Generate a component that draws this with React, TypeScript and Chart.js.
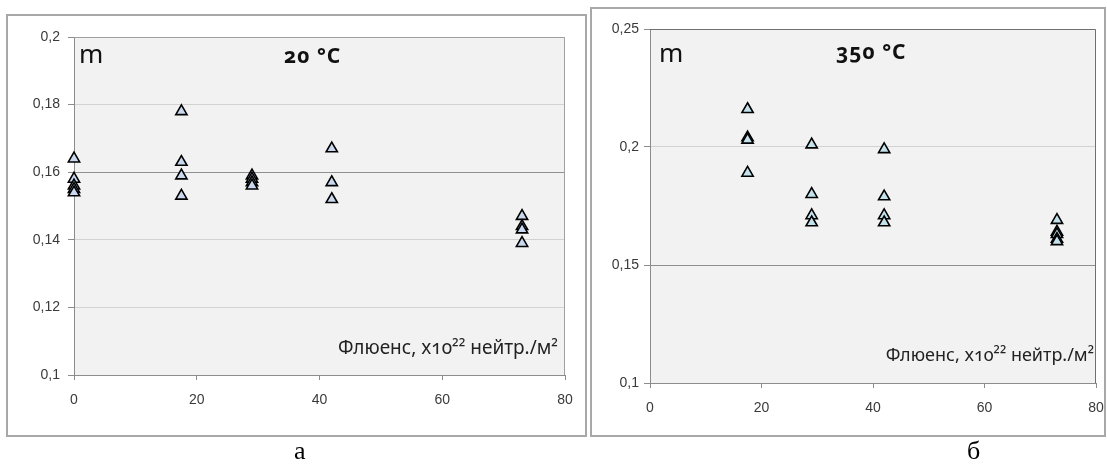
import React, { useEffect, useRef } from 'react';
import { Chart, registerables } from 'chart.js';

Chart.register(...registerables);

// ---- data ----
const xTicks = [0, 20, 40, 60, 80];
const yTicksA = [0.1, 0.12, 0.14, 0.16, 0.18, 0.2];
const yTicksB = [0.1, 0.15, 0.2, 0.25];

// 20 °C
const fluenceA = [0, 0, 0, 0, 0, 17.5, 17.5, 17.5, 17.5, 29, 29, 29, 29, 42, 42, 42, 73, 73, 73, 73];
const mA = [0.164, 0.158, 0.156, 0.155, 0.154, 0.178, 0.163, 0.159, 0.153, 0.159, 0.158, 0.157, 0.156, 0.167, 0.157, 0.152, 0.147, 0.144, 0.143, 0.139];

// 350 °C
const fluenceB = [17.5, 17.5, 17.5, 17.5, 29, 29, 29, 29, 42, 42, 42, 42, 73, 73, 73, 73, 73];
const mB = [0.216, 0.204, 0.203, 0.189, 0.201, 0.18, 0.171, 0.168, 0.199, 0.179, 0.171, 0.168, 0.169, 0.164, 0.163, 0.161, 0.16];

const fmt = (v: number) => String(Number(v.toFixed(3))).replace('.', ',');

type PanelProps = {
  xs: number[];
  ys: number[];
  yTicks: number[];
  left: number;
  top: number;
  width: number;
  height: number;
  area: { left: number; top: number; right: number; bottom: number };
  pointFill: string;
  darkGrid: number[];
  frameLine: string;
  fontSize: number;
  yPad: number;
  xPad: number;
};

function Panel(p: PanelProps) {
  const ref = useRef<HTMLCanvasElement>(null);
  useEffect(() => {
    if (!ref.current) return;
    const yAxisWidth = p.area.left;
    const xAxisHeight = 40;
    const padBottom = p.height - p.area.bottom - xAxisHeight;
    const areaPlugin = {
      id: 'areaStyle',
      beforeDraw(chart: any) {
        const { ctx, chartArea: a } = chart;
        ctx.save();
        ctx.fillStyle = '#f2f2f2';
        ctx.fillRect(a.left, a.top, a.right - a.left, a.bottom - a.top);
        ctx.restore();
      },
      beforeDatasetsDraw(chart: any) {
        const { ctx, chartArea: a } = chart;
        ctx.save();
        ctx.strokeStyle = p.frameLine;
        ctx.lineWidth = 1;
        ctx.beginPath();
        ctx.moveTo(a.left, a.top + 0.5);
        ctx.lineTo(a.right - 0.5, a.top + 0.5);
        ctx.lineTo(a.right - 0.5, a.bottom);
        ctx.stroke();
        ctx.restore();
      },
    };
    const chart = new Chart(ref.current, {
      type: 'scatter',
      data: {
        datasets: [
          {
            data: p.xs.map((x, i) => ({ x, y: p.ys[i] })),
            pointStyle: 'triangle',
            pointRadius: 6.5,
            pointHoverRadius: 6.5,
            pointBackgroundColor: p.pointFill,
            pointBorderColor: '#000',
            pointBorderWidth: 1.6,
            clip: false,
          },
        ],
      },
      options: {
        animation: false,
        responsive: false,
        events: [],
        layout: {
          padding: {
            left: 0,
            top: p.area.top,
            right: p.width - p.area.right,
            bottom: padBottom,
          },
        },
        plugins: { legend: { display: false }, tooltip: { enabled: false }, title: { display: false } },
        scales: {
          x: {
            type: 'linear',
            min: xTicks[0],
            max: xTicks[xTicks.length - 1],
            afterBuildTicks: (s: any) => {
              s.ticks = xTicks.map((v) => ({ value: v }));
            },
            afterFit: (s: any) => {
              s.height = xAxisHeight;
              s.paddingLeft = 0;
              s.paddingRight = 0;
            },
            ticks: {
              font: { family: 'Liberation Sans, Arial, sans-serif', size: p.fontSize },
              color: '#3a3a3a',
              padding: p.xPad,
              maxRotation: 0,
              autoSkip: false,
            },
            grid: { drawOnChartArea: false, drawTicks: true, tickLength: 5, tickColor: '#8c8c8c' },
            border: { color: '#8c8c8c', width: 1 },
          },
          y: {
            type: 'linear',
            min: p.yTicks[0],
            max: p.yTicks[p.yTicks.length - 1],
            afterBuildTicks: (s: any) => {
              s.ticks = p.yTicks.map((v) => ({ value: v }));
            },
            afterFit: (s: any) => {
              s.width = yAxisWidth;
              s.paddingTop = 0;
              s.paddingBottom = 0;
            },
            ticks: {
              font: { family: 'Liberation Sans, Arial, sans-serif', size: p.fontSize },
              color: '#3a3a3a',
              padding: p.yPad,
              autoSkip: false,
              callback: (v: any) => fmt(Number(v)),
            },
            grid: {
              color: (c: any) =>
                c.tick && p.darkGrid.some((d) => Math.abs(d - c.tick.value) < 1e-9) ? '#8f8f8f' : '#d2d2d2',
              tickLength: 6,
              tickColor: '#8c8c8c',
            },
            border: { color: '#8c8c8c', width: 1 },
          },
        },
      },
      plugins: [areaPlugin],
    });
    return () => chart.destroy();
  }, []);
  return (
    <canvas
      ref={ref}
      width={p.width}
      height={p.height}
      style={{ position: 'absolute', left: p.left, top: p.top, width: p.width, height: p.height }}
    />
  );
}

const sans = '"Noto Sans", "Open Sans", sans-serif';

export default function App() {
  const abs = (s: React.CSSProperties): React.CSSProperties => ({
    position: 'absolute',
    whiteSpace: 'nowrap',
    lineHeight: 1,
    margin: 0,
    ...s,
  });
  return (
    <div style={{ position: 'absolute', left: 0, top: 0, width: 1107, height: 469, background: '#fff', overflow: 'hidden' }}>
      {/* left panel frame */}
      <div style={{ position: 'absolute', left: 6, top: 14, width: 581, height: 423, border: '2px solid #a8a8a8', boxSizing: 'border-box' }} />
      <Panel
        xs={fluenceA}
        ys={mA}
        yTicks={yTicksA}
        left={6}
        top={14}
        width={581}
        height={423}
        area={{ left: 68, top: 23, right: 559, bottom: 361 }}
        pointFill="#c9d7ef"
        darkGrid={[0.16]}
        frameLine="#a0a0a0"
        fontSize={14}
        yPad={8}
        xPad={12}
      />
      {/* right panel frame */}
      <div style={{ position: 'absolute', left: 590, top: 7, width: 516, height: 430, border: '2px solid #a8a8a8', boxSizing: 'border-box' }} />
      <Panel
        xs={fluenceB}
        ys={mB}
        yTicks={yTicksB}
        left={590}
        top={7}
        width={515}
        height={430}
        area={{ left: 60, top: 22, right: 506, bottom: 376 }}
        pointFill="#c3e2ec"
        darkGrid={[0.15]}
        frameLine="#707070"
        fontSize={14}
        yPad={5}
        xPad={12}
      />

      {/* annotations left */}
      <div style={abs({ left: 79, top: 40, fontFamily: sans, fontSize: 26, color: '#111' })}>m</div>
      <div style={abs({ left: 284, top: 45, fontFamily: sans, fontSize: 21, fontWeight: 700, color: '#111', letterSpacing: 1, fontVariantNumeric: 'oldstyle-nums' })}>
        20 °C
      </div>
      <div style={abs({ right: 549, top: 338, fontFamily: sans, fontSize: 19, color: '#222', fontVariantNumeric: 'oldstyle-nums' })}>
        Флюенс, x10²² нейтр./м²
      </div>

      {/* annotations right */}
      <div style={abs({ left: 659, top: 39, fontFamily: sans, fontSize: 26, color: '#111' })}>m</div>
      <div style={abs({ left: 836, top: 41, fontFamily: sans, fontSize: 21, fontWeight: 700, color: '#111', letterSpacing: 1, fontVariantNumeric: 'oldstyle-nums' })}>
        350 °C
      </div>
      <div style={abs({ right: 13, top: 345, fontFamily: sans, fontSize: 18, color: '#222', fontVariantNumeric: 'oldstyle-nums' })}>
        Флюенс, x10²² нейтр./м²
      </div>

      {/* panel captions */}
      <div style={abs({ left: 294, top: 438, fontFamily: '"Liberation Serif", "Times New Roman", serif', fontSize: 26, color: '#000' })}>а</div>
      <div style={abs({ left: 967, top: 438, fontFamily: '"Liberation Serif", "Times New Roman", serif', fontSize: 26, color: '#000' })}>б</div>
    </div>
  );
}
